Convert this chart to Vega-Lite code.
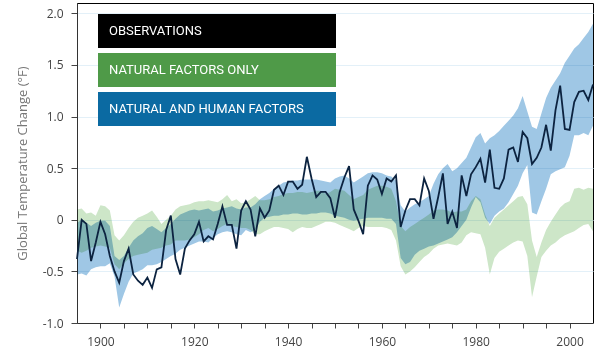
{
  "$schema": "https://vega.github.io/schema/vega-lite/v6.json",
  "width": 516,
  "height": 320,
  "autosize": {"type": "none"},
  "padding": {"left": 77, "top": 3, "right": 12, "bottom": 32},
  "background": "white",
  "config": {
    "view": {"stroke": "black", "strokeWidth": 1},
    "style": {"cell": {"stroke": "black", "strokeWidth": 1}},
    "axis": {"labelFont": "Open Sans", "titleFont": "Open Sans", "labelColor": "#444", "domainColor": "#333", "tickColor": "#444", "labelFontSize": 12, "labelOverlap": false}
  },
  "data": {"values": [
    {"year":1895,"obs":-0.38,"natLo":-0.30,"natHi":0.10,"allLo":-0.53,"allHi":-0.03},
    {"year":1896,"obs":0.00,"natLo":-0.32,"natHi":0.11,"allLo":-0.52,"allHi":0.00},
    {"year":1897,"obs":-0.04,"natLo":-0.30,"natHi":0.06,"allLo":-0.54,"allHi":-0.03},
    {"year":1898,"obs":-0.40,"natLo":-0.27,"natHi":0.07,"allLo":-0.48,"allHi":-0.06},
    {"year":1899,"obs":-0.22,"natLo":-0.26,"natHi":0.04,"allLo":-0.46,"allHi":-0.03},
    {"year":1900,"obs":-0.02,"natLo":-0.25,"natHi":0.14,"allLo":-0.45,"allHi":-0.01},
    {"year":1901,"obs":-0.14,"natLo":-0.26,"natHi":0.13,"allLo":-0.45,"allHi":-0.01},
    {"year":1902,"obs":-0.35,"natLo":-0.27,"natHi":0.09,"allLo":-0.42,"allHi":-0.06},
    {"year":1903,"obs":-0.50,"natLo":-0.43,"natHi":-0.15,"allLo":-0.55,"allHi":-0.35},
    {"year":1904,"obs":-0.61,"natLo":-0.48,"natHi":-0.20,"allLo":-0.85,"allHi":-0.39},
    {"year":1905,"obs":-0.40,"natLo":-0.42,"natHi":-0.15,"allLo":-0.72,"allHi":-0.35},
    {"year":1906,"obs":-0.28,"natLo":-0.38,"natHi":-0.08,"allLo":-0.60,"allHi":-0.27},
    {"year":1907,"obs":-0.53,"natLo":-0.35,"natHi":-0.02,"allLo":-0.52,"allHi":-0.20},
    {"year":1908,"obs":-0.59,"natLo":-0.34,"natHi":0.02,"allLo":-0.50,"allHi":-0.16},
    {"year":1909,"obs":-0.63,"natLo":-0.33,"natHi":0.04,"allLo":-0.48,"allHi":-0.13},
    {"year":1910,"obs":-0.56,"natLo":-0.32,"natHi":0.06,"allLo":-0.44,"allHi":-0.08},
    {"year":1911,"obs":-0.66,"natLo":-0.29,"natHi":0.09,"allLo":-0.44,"allHi":-0.06},
    {"year":1912,"obs":-0.48,"natLo":-0.28,"natHi":0.03,"allLo":-0.43,"allHi":-0.09},
    {"year":1913,"obs":-0.46,"natLo":-0.27,"natHi":-0.04,"allLo":-0.41,"allHi":-0.12},
    {"year":1914,"obs":-0.10,"natLo":-0.25,"natHi":0.00,"allLo":-0.38,"allHi":-0.08},
    {"year":1915,"obs":0.04,"natLo":-0.24,"natHi":0.04,"allLo":-0.35,"allHi":-0.04},
    {"year":1916,"obs":-0.38,"natLo":-0.20,"natHi":0.10,"allLo":-0.33,"allHi":0.01},
    {"year":1917,"obs":-0.53,"natLo":-0.20,"natHi":0.13,"allLo":-0.29,"allHi":0.05},
    {"year":1918,"obs":-0.28,"natLo":-0.20,"natHi":0.14,"allLo":-0.27,"allHi":0.07},
    {"year":1919,"obs":-0.20,"natLo":-0.19,"natHi":0.15,"allLo":-0.25,"allHi":0.09},
    {"year":1920,"obs":-0.14,"natLo":-0.17,"natHi":0.17,"allLo":-0.23,"allHi":0.10},
    {"year":1921,"obs":-0.02,"natLo":-0.14,"natHi":0.18,"allLo":-0.21,"allHi":0.09},
    {"year":1922,"obs":-0.21,"natLo":-0.10,"natHi":0.18,"allLo":-0.21,"allHi":0.10},
    {"year":1923,"obs":-0.16,"natLo":-0.08,"natHi":0.19,"allLo":-0.22,"allHi":0.11},
    {"year":1924,"obs":-0.19,"natLo":-0.11,"natHi":0.18,"allLo":-0.18,"allHi":0.08},
    {"year":1925,"obs":-0.04,"natLo":-0.09,"natHi":0.17,"allLo":-0.14,"allHi":0.09},
    {"year":1926,"obs":0.13,"natLo":-0.06,"natHi":0.20,"allLo":-0.12,"allHi":0.11},
    {"year":1927,"obs":-0.05,"natLo":-0.04,"natHi":0.24,"allLo":-0.11,"allHi":0.12},
    {"year":1928,"obs":-0.05,"natLo":-0.06,"natHi":0.18,"allLo":-0.12,"allHi":0.13},
    {"year":1929,"obs":-0.28,"natLo":-0.07,"natHi":0.20,"allLo":-0.14,"allHi":0.11},
    {"year":1930,"obs":0.09,"natLo":-0.08,"natHi":0.16,"allLo":-0.15,"allHi":0.10},
    {"year":1931,"obs":0.18,"natLo":-0.08,"natHi":0.17,"allLo":-0.10,"allHi":0.12},
    {"year":1932,"obs":0.10,"natLo":-0.10,"natHi":0.20,"allLo":-0.12,"allHi":0.12},
    {"year":1933,"obs":-0.16,"natLo":-0.14,"natHi":0.23,"allLo":-0.10,"allHi":0.15},
    {"year":1934,"obs":0.11,"natLo":-0.14,"natHi":0.19,"allLo":-0.02,"allHi":0.20},
    {"year":1935,"obs":0.02,"natLo":-0.11,"natHi":0.19,"allLo":0.02,"allHi":0.23},
    {"year":1936,"obs":0.09,"natLo":-0.09,"natHi":0.20,"allLo":0.03,"allHi":0.26},
    {"year":1937,"obs":0.29,"natLo":-0.07,"natHi":0.22,"allLo":0.04,"allHi":0.30},
    {"year":1938,"obs":0.33,"natLo":-0.07,"natHi":0.23,"allLo":0.04,"allHi":0.33},
    {"year":1939,"obs":0.24,"natLo":-0.08,"natHi":0.25,"allLo":0.05,"allHi":0.36},
    {"year":1940,"obs":0.37,"natLo":-0.09,"natHi":0.26,"allLo":0.05,"allHi":0.37},
    {"year":1941,"obs":0.37,"natLo":-0.12,"natHi":0.26,"allLo":0.06,"allHi":0.38},
    {"year":1942,"obs":0.30,"natLo":-0.09,"natHi":0.27,"allLo":0.06,"allHi":0.38},
    {"year":1943,"obs":0.34,"natLo":-0.07,"natHi":0.27,"allLo":0.05,"allHi":0.39},
    {"year":1944,"obs":0.61,"natLo":-0.08,"natHi":0.26,"allLo":0.05,"allHi":0.39},
    {"year":1945,"obs":0.40,"natLo":-0.08,"natHi":0.27,"allLo":0.06,"allHi":0.39},
    {"year":1946,"obs":0.22,"natLo":-0.06,"natHi":0.28,"allLo":0.06,"allHi":0.39},
    {"year":1947,"obs":0.27,"natLo":-0.04,"natHi":0.28,"allLo":0.07,"allHi":0.38},
    {"year":1948,"obs":0.27,"natLo":-0.02,"natHi":0.25,"allLo":0.07,"allHi":0.37},
    {"year":1949,"obs":0.21,"natLo":-0.02,"natHi":0.27,"allLo":0.06,"allHi":0.36},
    {"year":1950,"obs":0.02,"natLo":-0.03,"natHi":0.30,"allLo":0.04,"allHi":0.40},
    {"year":1951,"obs":0.27,"natLo":-0.05,"natHi":0.29,"allLo":0.03,"allHi":0.42},
    {"year":1952,"obs":0.41,"natLo":-0.07,"natHi":0.28,"allLo":0.02,"allHi":0.43},
    {"year":1953,"obs":0.52,"natLo":-0.09,"natHi":0.24,"allLo":0.00,"allHi":0.40},
    {"year":1954,"obs":0.10,"natLo":-0.11,"natHi":0.20,"allLo":-0.01,"allHi":0.36},
    {"year":1955,"obs":-0.01,"natLo":-0.08,"natHi":0.22,"allLo":0.00,"allHi":0.39},
    {"year":1956,"obs":-0.14,"natLo":-0.06,"natHi":0.24,"allLo":0.01,"allHi":0.42},
    {"year":1957,"obs":0.33,"natLo":-0.07,"natHi":0.29,"allLo":0.02,"allHi":0.45},
    {"year":1958,"obs":0.43,"natLo":-0.07,"natHi":0.31,"allLo":0.02,"allHi":0.46},
    {"year":1959,"obs":0.39,"natLo":-0.07,"natHi":0.33,"allLo":0.02,"allHi":0.46},
    {"year":1960,"obs":0.25,"natLo":-0.07,"natHi":0.33,"allLo":0.02,"allHi":0.45},
    {"year":1961,"obs":0.40,"natLo":-0.08,"natHi":0.32,"allLo":0.01,"allHi":0.43},
    {"year":1962,"obs":0.37,"natLo":-0.10,"natHi":0.30,"allLo":0.01,"allHi":0.42},
    {"year":1963,"obs":0.43,"natLo":-0.20,"natHi":0.18,"allLo":-0.04,"allHi":0.38},
    {"year":1964,"obs":-0.07,"natLo":-0.45,"natHi":-0.06,"allLo":-0.37,"allHi":0.14},
    {"year":1965,"obs":0.09,"natLo":-0.53,"natHi":-0.11,"allLo":-0.43,"allHi":0.08},
    {"year":1966,"obs":0.20,"natLo":-0.50,"natHi":-0.07,"allLo":-0.41,"allHi":0.12},
    {"year":1967,"obs":0.20,"natLo":-0.46,"natHi":-0.04,"allLo":-0.34,"allHi":0.15},
    {"year":1968,"obs":0.14,"natLo":-0.41,"natHi":-0.01,"allLo":-0.30,"allHi":0.17},
    {"year":1969,"obs":0.40,"natLo":-0.36,"natHi":0.02,"allLo":-0.28,"allHi":0.20},
    {"year":1970,"obs":0.28,"natLo":-0.33,"natHi":0.05,"allLo":-0.26,"allHi":0.23},
    {"year":1971,"obs":0.01,"natLo":-0.28,"natHi":0.09,"allLo":-0.25,"allHi":0.35},
    {"year":1972,"obs":0.22,"natLo":-0.25,"natHi":0.10,"allLo":-0.23,"allHi":0.44},
    {"year":1973,"obs":0.45,"natLo":-0.24,"natHi":0.10,"allLo":-0.21,"allHi":0.50},
    {"year":1974,"obs":-0.04,"natLo":-0.23,"natHi":0.09,"allLo":-0.19,"allHi":0.54},
    {"year":1975,"obs":0.08,"natLo":-0.24,"natHi":0.07,"allLo":-0.17,"allHi":0.47},
    {"year":1976,"obs":-0.08,"natLo":-0.25,"natHi":0.08,"allLo":-0.12,"allHi":0.50},
    {"year":1977,"obs":0.43,"natLo":-0.22,"natHi":0.08,"allLo":-0.06,"allHi":0.55},
    {"year":1978,"obs":0.23,"natLo":-0.15,"natHi":0.10,"allLo":0.00,"allHi":0.60},
    {"year":1979,"obs":0.44,"natLo":-0.12,"natHi":0.18,"allLo":0.12,"allHi":0.70},
    {"year":1980,"obs":0.51,"natLo":-0.13,"natHi":0.23,"allLo":0.22,"allHi":0.80},
    {"year":1981,"obs":0.59,"natLo":-0.14,"natHi":0.20,"allLo":0.17,"allHi":0.84},
    {"year":1982,"obs":0.36,"natLo":-0.27,"natHi":0.05,"allLo":0.02,"allHi":0.74},
    {"year":1983,"obs":0.68,"natLo":-0.53,"natHi":-0.06,"allLo":-0.04,"allHi":0.79},
    {"year":1984,"obs":0.31,"natLo":-0.37,"natHi":0.02,"allLo":0.04,"allHi":0.82},
    {"year":1985,"obs":0.30,"natLo":-0.31,"natHi":0.06,"allLo":0.08,"allHi":0.86},
    {"year":1986,"obs":0.40,"natLo":-0.28,"natHi":0.10,"allLo":0.11,"allHi":0.91},
    {"year":1987,"obs":0.68,"natLo":-0.25,"natHi":0.14,"allLo":0.17,"allHi":0.96},
    {"year":1988,"obs":0.70,"natLo":-0.22,"natHi":0.18,"allLo":0.25,"allHi":1.01},
    {"year":1989,"obs":0.56,"natLo":-0.20,"natHi":0.22,"allLo":0.33,"allHi":1.08},
    {"year":1990,"obs":0.85,"natLo":-0.21,"natHi":0.23,"allLo":0.45,"allHi":1.20},
    {"year":1991,"obs":0.79,"natLo":-0.35,"natHi":0.15,"allLo":0.53,"allHi":1.05},
    {"year":1992,"obs":0.54,"natLo":-0.75,"natHi":-0.20,"allLo":0.07,"allHi":0.90},
    {"year":1993,"obs":0.60,"natLo":-0.55,"natHi":-0.36,"allLo":0.05,"allHi":0.88},
    {"year":1994,"obs":0.70,"natLo":-0.36,"natHi":-0.22,"allLo":0.18,"allHi":1.03},
    {"year":1995,"obs":0.92,"natLo":-0.30,"natHi":-0.10,"allLo":0.30,"allHi":1.18},
    {"year":1996,"obs":0.67,"natLo":-0.25,"natHi":-0.02,"allLo":0.44,"allHi":1.28},
    {"year":1997,"obs":1.06,"natLo":-0.22,"natHi":0.05,"allLo":0.47,"allHi":1.35},
    {"year":1998,"obs":1.30,"natLo":-0.18,"natHi":0.12,"allLo":0.49,"allHi":1.42},
    {"year":1999,"obs":0.88,"natLo":-0.15,"natHi":0.16,"allLo":0.51,"allHi":1.52},
    {"year":2000,"obs":0.87,"natLo":-0.13,"natHi":0.18,"allLo":0.62,"allHi":1.59},
    {"year":2001,"obs":1.14,"natLo":-0.11,"natHi":0.30,"allLo":0.82,"allHi":1.66},
    {"year":2002,"obs":1.24,"natLo":-0.08,"natHi":0.31,"allLo":0.82,"allHi":1.70},
    {"year":2003,"obs":1.25,"natLo":-0.05,"natHi":0.29,"allLo":0.84,"allHi":1.76},
    {"year":2004,"obs":1.16,"natLo":-0.04,"natHi":0.31,"allLo":0.82,"allHi":1.82},
    {"year":2005,"obs":1.31,"natLo":-0.11,"natHi":0.30,"allLo":0.91,"allHi":1.90}
  ]},
  "encoding": {
    "x": {
      "field": "year", "type": "quantitative",
      "scale": {"domain": [1895, 2005], "nice": false, "zero": false},
      "axis": {
        "title": null,
        "values": [1900,1905,1910,1915,1920,1925,1930,1935,1940,1945,1950,1955,1960,1965,1970,1975,1980,1985,1990,1995,2000],
        "labelExpr": "datum.value % 20 == 0 ? '' + datum.value : ''",
        "tickSize": 5,
        "labelOverlap": false, "labelFlush": false, "labelPadding": 8, "grid": false
      }
    }
  },
  "layer": [
    {
      "mark": {"type": "area", "blend": "multiply", "fill": "#9fc7e5"},
      "encoding": {
        "y": {
          "field": "allLo", "type": "quantitative",
          "scale": {"domain": [-1.0, 2.1], "nice": false, "zero": false},
          "axis": {
            "title": "Global Temperature Change (°F)",
            "titleColor": "#777", "titleFontSize": 13, "titleFontWeight": "normal", "titlePadding": 13,
            "values": [-1, -0.5, 0, 0.5, 1, 1.5, 2],
            "labelExpr": "abs(datum.value) < 0.01 ? '0' : (datum.value < 0 ? '-' : '') + format(abs(datum.value), '.1f')",
            "tickSize": 6,
            "grid": true, "gridColor": "#e3f0f8",
            "labelOverlap": false, "labelFlush": false, "labelPadding": 8
          }
        },
        "y2": {"field": "allHi"}
      }
    },
    {
      "mark": {"type": "area", "blend": "multiply", "fill": "#cde6c8"},
      "encoding": {
        "y": {"field": "natLo", "type": "quantitative"},
        "y2": {"field": "natHi"}
      }
    },
    {
      "mark": {"type": "line", "strokeWidth": 1.8, "stroke": "#0c2340"},
      "encoding": {
        "y": {"field": "obs", "type": "quantitative"}
      }
    },
    {
      "transform": [{"filter": "datum.year > 3000"}],
      "mark": {"type": "area", "opacity": 1},
      "encoding": {
        "y": {"field": "obs", "type": "quantitative"},
        "color": {
          "datum": "OBSERVATIONS", "type": "nominal",
          "scale": {
            "domain": ["OBSERVATIONS", "NATURAL FACTORS ONLY", "NATURAL AND HUMAN FACTORS"],
            "range": ["#000000", "#4f9a48", "#0b6aa2"]
          },
          "legend": {
            "title": null, "orient": "none", "legendX": 20, "legendY": 10, "direction": "vertical",
            "padding": 0, "symbolSize": 1156, "symbolType": "M -1 -1 H 13 V 1 H -1 Z", "rowPadding": 4,
            "labelFont": "Roboto", "labelFontSize": 13, "labelFontWeight": "normal", "labelColor": "white",
            "labelOffset": -24, "labelLimit": 400
          }
        }
      }
    }
  ]
}
